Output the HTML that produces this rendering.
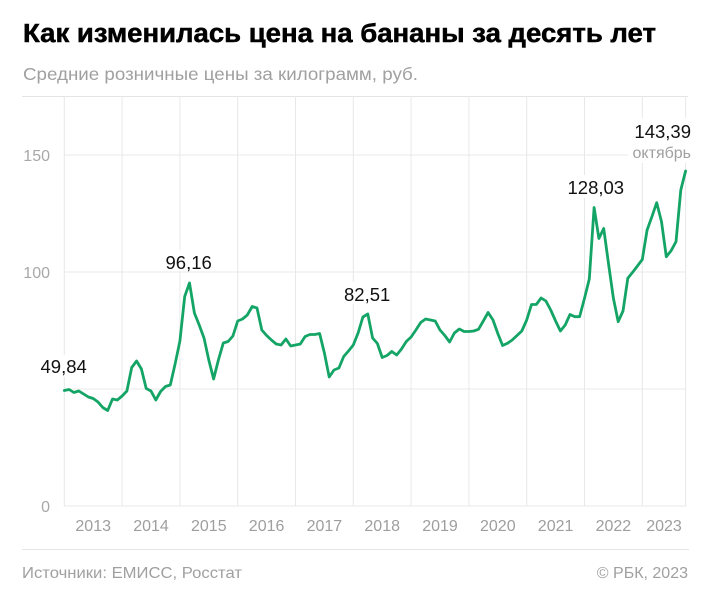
<!DOCTYPE html>
<html>
<head>
<meta charset="utf-8">
<style>
  html,body{margin:0;padding:0;background:#fff;}
  svg{display:block;}
  text{font-family:"Liberation Sans","DejaVu Sans",sans-serif;}
</style>
</head>
<body>
<svg width="712" height="600" viewBox="0 0 712 600" xmlns="http://www.w3.org/2000/svg">
  <rect x="0" y="0" width="712" height="600" fill="#fff"/>

  <!-- Title & subtitle -->
  <text x="23" y="42" font-size="25.5" font-weight="700" fill="#000" stroke="#000" stroke-width="0.5" textLength="633" lengthAdjust="spacingAndGlyphs">Как изменилась цена на бананы за десять лет</text>
  <text x="23" y="80" font-size="17.5" fill="#a0a0a0" textLength="395" lengthAdjust="spacingAndGlyphs">Средние розничные цены за килограмм, руб.</text>

  <!-- top border -->
  <line x1="22" y1="96.5" x2="688" y2="96.5" stroke="#e4e4e4" stroke-width="1"/>

  <!-- vertical gridlines -->
  <g stroke="#e8e8e8" stroke-width="1">
    <line x1="64.3" y1="96" x2="64.3" y2="506"/>
    <line x1="122.1" y1="96" x2="122.1" y2="506"/>
    <line x1="179.9" y1="96" x2="179.9" y2="506"/>
    <line x1="237.7" y1="96" x2="237.7" y2="506"/>
    <line x1="295.5" y1="96" x2="295.5" y2="506"/>
    <line x1="353.3" y1="96" x2="353.3" y2="506"/>
    <line x1="411.1" y1="96" x2="411.1" y2="506"/>
    <line x1="468.9" y1="96" x2="468.9" y2="506"/>
    <line x1="526.7" y1="96" x2="526.7" y2="506"/>
    <line x1="584.5" y1="96" x2="584.5" y2="506"/>
    <line x1="642.3" y1="96" x2="642.3" y2="506"/>
    <line x1="685.6" y1="96" x2="685.6" y2="506"/>
  </g>
  <!-- horizontal gridlines -->
  <g stroke="#e8e8e8" stroke-width="1">
    <line x1="64" y1="155" x2="686" y2="155"/>
    <line x1="64" y1="272" x2="686" y2="272"/>
    <line x1="64" y1="389" x2="686" y2="389"/>
    <line x1="64" y1="506" x2="686" y2="506"/>
  </g>

  <!-- y labels -->
  <g font-size="16" fill="#a8a8a8" text-anchor="end">
    <text x="50" y="161">150</text>
    <text x="50" y="278">100</text>
    <text x="50" y="512">0</text>
  </g>

  <!-- x labels -->
  <g font-size="16" fill="#9e9e9e" text-anchor="middle">
    <text x="93.2" y="531">2013</text>
    <text x="151" y="531">2014</text>
    <text x="208.8" y="531">2015</text>
    <text x="266.6" y="531">2016</text>
    <text x="324.4" y="531">2017</text>
    <text x="382.2" y="531">2018</text>
    <text x="440" y="531">2019</text>
    <text x="497.8" y="531">2020</text>
    <text x="555.6" y="531">2021</text>
    <text x="613.4" y="531">2022</text>
    <text x="664" y="531">2023</text>
  </g>

  <!-- label backgrounds -->
  <g fill="#fff">
    <rect x="39" y="355" width="52" height="22"/>
    <rect x="163" y="250" width="51" height="21"/>
    <rect x="342" y="282" width="52" height="22"/>
    <rect x="565" y="175" width="60" height="23"/>
    <rect x="628" y="118" width="64" height="45"/>
  </g>

  <!-- series -->
  <polyline fill="none" stroke="#14a566" stroke-width="2.8" stroke-linejoin="round" stroke-linecap="round"
    points="64.3,390.5 69.1,389.5 73.9,392.5 78.8,391 83.6,394 88.4,397 93.2,398.5 98.0,402 102.8,407.5 107.7,410.5 112.5,399 117.3,400 122.1,396 126.9,391 131.7,367.5 136.6,361 141.4,369 146.2,388.5 151.0,391 155.8,400 160.6,391.5 165.5,386.5 170.3,385 175.1,364 179.9,341 184.7,296.5 189.5,283 194.4,313 199.2,325 204.0,338 208.8,360 213.6,379 218.4,360 223.3,343 228.1,341.5 232.9,336 237.7,321 242.5,319 247.3,315 252.2,306.5 257.0,308 261.8,330 266.6,335.5 271.4,340 276.2,344 281.1,345 285.9,339 290.7,346 295.5,345 300.3,344 305.1,336.5 310.0,334.5 314.8,334.5 319.6,333.5 324.4,353 329.2,377 334.0,370 338.9,368 343.7,356.5 348.5,351 353.3,345 358.1,333 362.9,317 367.8,314 372.6,338 377.4,343.5 382.2,357.5 387.0,355.5 391.8,351.5 396.7,355 401.5,349 406.3,341.5 411.1,337 415.9,330 420.7,322.5 425.6,319 430.4,320 435.2,321 440.0,330 444.8,335.5 449.6,342 454.4,333 459.3,329 464.1,331.5 468.9,331.5 473.7,331 478.5,329.3 483.3,321 488.1,312.5 493.0,320 497.8,333.5 502.6,345.5 507.4,343.3 512.2,340 517.0,335.5 521.8,331 526.7,320 531.5,304.5 536.3,304.5 541.1,298 545.9,301 550.7,310 555.6,321 560.4,331 565.2,325 570.0,314.5 574.8,316.7 579.6,316.7 584.5,298.3 589.3,279 594.1,207.5 598.9,238.5 603.7,228.5 608.5,263.5 613.4,298.3 618.2,321.7 623.0,311 627.8,278.3 632.6,272.3 637.4,266 642.3,259.5 647.1,230 651.9,216.7 656.7,202.7 661.5,221.7 666.3,256.7 671.1,250.7 676.0,241.7 680.8,190 685.6,171"/>

  <!-- annotations -->
  <g font-size="18.5" fill="#111">
    <text x="40.5" y="373">49,84</text>
    <text x="165.5" y="269">96,16</text>
    <text x="344" y="301">82,51</text>
    <text x="567.5" y="194">128,03</text>
    <text x="691" y="138" text-anchor="end">143,39</text>
  </g>
  <text x="691" y="158" font-size="16" fill="#a0a0a0" text-anchor="end">октябрь</text>

  <!-- footer -->
  <line x1="22" y1="549.5" x2="689" y2="549.5" stroke="#e4e4e4" stroke-width="1"/>
  <text x="22" y="578" font-size="16" fill="#a0a0a0" textLength="220" lengthAdjust="spacingAndGlyphs">Источники: ЕМИСС, Росстат</text>
  <text x="688" y="578" font-size="16" fill="#a0a0a0" text-anchor="end">© РБК, 2023</text>
</svg>
</body>
</html>
